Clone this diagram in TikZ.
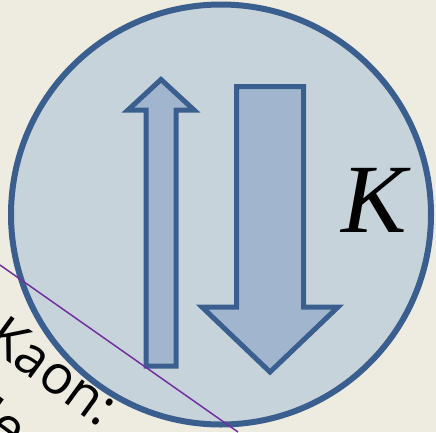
\documentclass[tikz,border=0pt]{standalone}
\usepackage{fontspec}
\setmainfont{Liberation Serif}
\newfontfamily\labfont{Open Sans}
\definecolor{bg}{HTML}{EEEBE1}
\definecolor{circfill}{HTML}{C7D3DB}
\definecolor{arrfill}{HTML}{A1B6CE}
\definecolor{edge}{HTML}{3A5F8F}
\definecolor{purp}{HTML}{7030A0}
\tikzset{
  arrowshape/.style={fill=arrfill, draw=edge, line width=5pt, line join=miter},
  rottext/.style={font=\labfont\fontsize{54}{60}\selectfont, rotate=-36, anchor=base west, inner sep=0pt, text=black}
}
\begin{document}
\begin{tikzpicture}[x=1pt,y=-1pt]
\useasboundingbox (0,0) rectangle (436,432);
\fill[bg] (0,0) rectangle (436,432);
\begin{scope}
\clip (0,0) rectangle (436,432);
\node[rottext] (kaon) at (-16,344) {Kaon:};
\node[rottext] (meson) at (-54,405) {Me};
\end{scope}
\node[circle, minimum size=420pt, inner sep=0pt, fill=circfill, draw=edge, line width=6pt] (c) at (221,214.5) {};
\draw[arrowshape] (161,79.5) -- (194,110) -- (176,110) -- (176,366) -- (146,366) -- (146,110) -- (128,110) -- cycle;
\draw[arrowshape] (236.5,86.5) -- (303.5,86.5) -- (303.5,307) -- (338,307) -- (270,372) -- (202,307) -- (236.5,307) -- cycle;
\node[font=\fontsize{98}{98}\selectfont\itshape, inner sep=0pt, anchor=base] (k) at (374,232) {K};
\coordinate (l1) at (0,265);
\coordinate (l2) at (238,432);
\draw[purp, line width=1.5pt] (l1) -- (l2);
\end{tikzpicture}
\end{document}
